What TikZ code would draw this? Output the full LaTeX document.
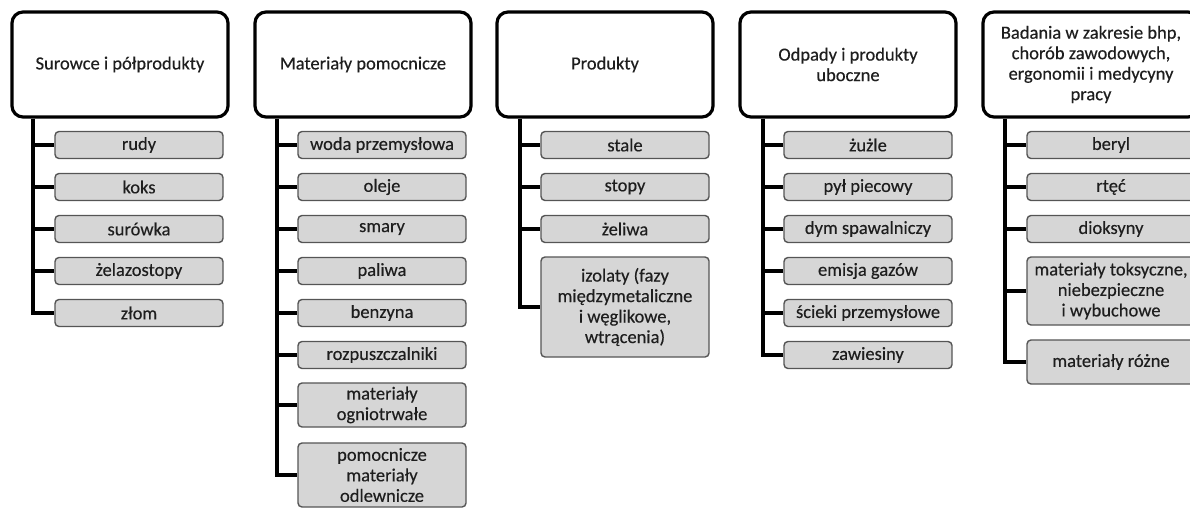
\documentclass[tikz,border=0pt]{standalone}
\usepackage{fontspec}
\setmainfont{Carlito}
\newfontfamily\boxfont{Carlito}[FakeBold=0.35]
\definecolor{txt}{HTML}{1E1E1E}
\definecolor{leaffill}{HTML}{D6D6D6}
\definecolor{leafline}{HTML}{555555}
\tikzset{
  head/.style={draw=black, line width=3.2pt, fill=white, rounded corners=11pt,
    minimum width=216pt, minimum height=105pt, align=center, text=txt,
    inner sep=2pt, font=\boxfont\fontsize{18.5}{20.5}\selectfont},
  leaf/.style={draw=leafline, line width=1.4pt, fill=leaffill, rounded corners=4pt,
    minimum width=168pt, minimum height=27pt, align=center, text=txt,
    inner sep=1pt, font=\boxfont\fontsize{18.5}{20.5}\selectfont},
  conn/.style={draw=black, line width=3.5pt},
}
\begin{document}
\begin{tikzpicture}[x=1pt, y=-1pt]
\useasboundingbox (0,0) rectangle (1190,508);
\clip (0,0) rectangle (1190,508);

% vertical spine positions of the five columns
\coordinate (v1) at (33,0);
\coordinate (v2) at (277,0);
\coordinate (v3) at (520,0);
\coordinate (v4) at (763,0);
\coordinate (v5) at (1005,0);

% column 1
\node[head] (h1) at (120,64.5) {Surowce i półprodukty};
\node[leaf] (a1) at (139,145) {rudy};
\node[leaf] (a2) at (139,187) {koks};
\node[leaf] (a3) at (139,229) {surówka};
\node[leaf] (a4) at (139,271) {żelazostopy};
\node[leaf] (a5) at (139,313) {złom};

% column 2
\node[head] (h2) at (363,64.5) {Materiały pomocnicze};
\node[leaf] (b1) at (382,145) {woda przemysłowa};
\node[leaf] (b2) at (382,187) {oleje};
\node[leaf] (b3) at (382,229) {smary};
\node[leaf] (b4) at (382,271) {paliwa};
\node[leaf] (b5) at (382,313) {benzyna};
\node[leaf] (b6) at (382,355) {rozpuszczalniki};
\node[leaf, minimum height=44pt] (b7) at (382,405) {materiały\\ogniotrwałe};
\node[leaf, minimum height=64pt] (b8) at (382,475) {pomocnicze\\materiały\\odlewnicze};

% column 3
\node[head] (h3) at (605,64.5) {Produkty};
\node[leaf] (c1) at (625,145) {stale};
\node[leaf] (c2) at (625,187) {stopy};
\node[leaf] (c3) at (625,229) {żeliwa};
\node[leaf, minimum height=100pt] (c4) at (625,307) {izolaty (fazy\\międzymetaliczne\\i węglikowe,\\wtrącenia)};

% column 4
\node[head] (h4) at (848,64.5) {Odpady i produkty\\uboczne};
\node[leaf] (d1) at (868,145) {żużle};
\node[leaf] (d2) at (868,187) {pył piecowy};
\node[leaf] (d3) at (868,229) {dym spawalniczy};
\node[leaf] (d4) at (868,271) {emisja gazów};
\node[leaf] (d5) at (868,313) {ścieki przemysłowe};
\node[leaf] (d6) at (868,355) {zawiesiny};

% column 5
\node[head] (h5) at (1091,64.5) {Badania w zakresie bhp,\\chorób zawodowych,\\ergonomii i medycyny\\pracy};
\node[leaf] (e1) at (1111,145) {beryl};
\node[leaf] (e2) at (1111,187) {rtęć};
\node[leaf] (e3) at (1111,229) {dioksyny};
\node[leaf, minimum height=68pt] (e4) at (1111,291) {materiały toksyczne,\\niebezpieczne\\i wybuchowe};
\node[leaf, minimum height=44pt] (e5) at (1111,362) {materiały różne};

% spines with their branches
\draw[conn] (h1.south -| v1) |- (a5.west);
\foreach \n in {a1,a2,a3,a4} \draw[conn] (v1 |- \n.west) -- (\n.west);
\draw[conn] (h2.south -| v2) |- (b8.west);
\foreach \n in {b1,b2,b3,b4,b5,b6,b7} \draw[conn] (v2 |- \n.west) -- (\n.west);
\draw[conn] (h3.south -| v3) |- (c4.west);
\foreach \n in {c1,c2,c3} \draw[conn] (v3 |- \n.west) -- (\n.west);
\draw[conn] (h4.south -| v4) |- (d6.west);
\foreach \n in {d1,d2,d3,d4,d5} \draw[conn] (v4 |- \n.west) -- (\n.west);
\draw[conn] (h5.south -| v5) |- (e5.west);
\foreach \n in {e1,e2,e3,e4} \draw[conn] (v5 |- \n.west) -- (\n.west);
\end{tikzpicture}
\end{document}
